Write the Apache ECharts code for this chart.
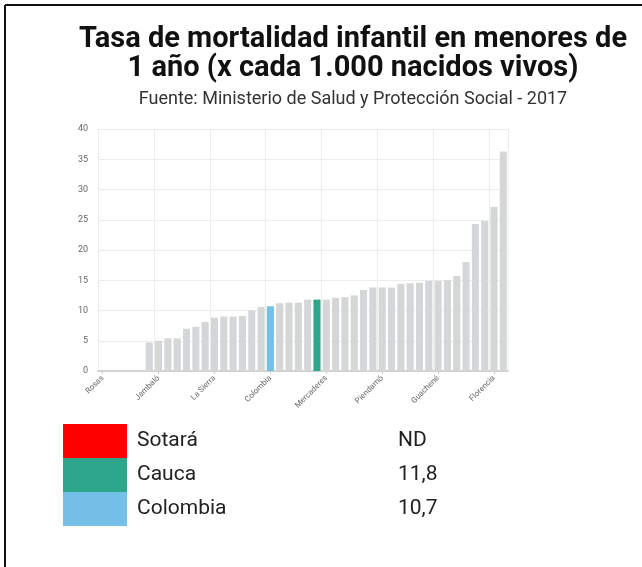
<!DOCTYPE html>
<html style="height: 100%">
   <head>
       <meta charset="utf-8">
   </head>
   <body style="height: 100%; margin: 0; background: #fff">
       <div id="container" style="width: 642px; height: 567px"></div>
       <script type="text/javascript" src="https://cdn.jsdelivr.net/npm/echarts@6/dist/echarts.min.js"></script>
       <script type="text/javascript">
// municipios ordenados por tasa (solo se rotula 1 de cada 6)
var municipios = ['Rosas', 'Santa Rosa', 'Piamonte', 'Sotará', 'Sucre', 'San Sebastián',
    'Jambaló', 'Almaguer', 'Puracé', 'Bolívar', 'Argelia', 'Balboa',
    'La Sierra', 'La Vega', 'Totoró', 'Inzá', 'Caldono', 'Silvia',
    'Colombia', 'Cajibío', 'Morales', 'Toribío', 'El Tambo', 'Cauca',
    'Mercaderes', 'Buenos Aires', 'Patía', 'Páez', 'Timbío', 'Caloto',
    'Piendamó', 'Suárez', 'Popayán', 'Corinto', 'Miranda', 'Padilla',
    'Guachené', 'Santander de Quilichao', 'Villa Rica', 'Puerto Tejada', 'Guapí', 'López de Micay',
    'Florencia', 'Timbiquí'];
var tasas = [0, 0, 0, null, 0, 4.7,
    5.0, 5.4, 5.4, 7.0, 7.3, 8.1,
    8.8, 9.0, 9.0, 9.1, 10.0, 10.6,
    10.7, 11.2, 11.3, 11.3, 11.8, 11.8,
    11.8, 12.1, 12.2, 12.5, 13.4, 13.8,
    13.8, 13.8, 14.4, 14.5, 14.6, 14.9,
    14.9, 15.0, 15.7, 18.0, 24.3, 24.8,
    27.1, 36.3];

var leyendaNombres = ['Sotará', 'Cauca', 'Colombia'];
var leyendaValores = ['ND', '11,8', '10,7'];
var leyendaColores = ['#ff0000', '#2ea68c', '#74c0e8'];

var dom = document.getElementById("container");
var myChart = echarts.init(dom);

var barData = [];
for (var i = 0; i < municipios.length; i++) {
    var k = leyendaNombres.indexOf(municipios[i]);
    barData.push({
        value: tasas[i],
        itemStyle: { color: k >= 0 ? leyendaColores[k] : '#d5d6d7' }
    });
}

var graphics = [
    { type: 'line', shape: { x1: 5, y1: 5, x2: 642, y2: 5 }, style: { stroke: '#111', lineWidth: 2 } },
    { type: 'line', shape: { x1: 5, y1: 5, x2: 5, y2: 567 }, style: { stroke: '#111', lineWidth: 2 } }
];
for (var j = 0; j < leyendaNombres.length; j++) {
    var y0 = 424 + j * 34;
    graphics.push({ type: 'rect', shape: { x: 63, y: y0, width: 64, height: 34 }, style: { fill: leyendaColores[j] } });
    graphics.push({ type: 'text', x: 137, y: y0 + 17, style: { text: leyendaNombres[j], fill: '#222', font: '21px Roboto', verticalAlign: 'middle' } });
    graphics.push({ type: 'text', x: 398, y: y0 + 17, style: { text: leyendaValores[j], fill: '#222', font: '21px Roboto', verticalAlign: 'middle' } });
}

option = {
    animation: false,
    title: {
        text: 'Tasa de mortalidad infantil en menores de\n1 año (x cada 1.000 nacidos vivos)',
        subtext: 'Fuente: Ministerio de Salud y Protección Social - 2017',
        left: 348,
        textAlign: 'center',
        top: 20,
        itemGap: 7,
        textStyle: { fontFamily: 'Roboto', fontWeight: 'bold', fontSize: 29, lineHeight: 29, color: '#111' },
        subtextStyle: { fontFamily: 'Roboto', fontSize: 18, color: '#333' }
    },
    grid: { left: 98, top: 129, width: 410, height: 242, containLabel: false },
    xAxis: {
        type: 'category',
        data: municipios,
        axisLine: { lineStyle: { color: '#c8c8c8', width: 1.5 } },
        axisTick: { show: true, interval: 5, alignWithLabel: true, length: 3, lineStyle: { color: '#ccc' } },
        axisLabel: { interval: 5, rotate: 45, fontSize: 8, fontFamily: 'Roboto', color: '#666', margin: 6 },
        splitLine: { show: true, interval: 5, lineStyle: { color: '#ececec' } }
    },
    yAxis: {
        type: 'value',
        min: 0,
        max: 40,
        interval: 5,
        axisLine: { show: false },
        axisTick: { show: false },
        axisLabel: { fontSize: 9, fontFamily: 'Roboto', color: '#666', margin: 10 },
        splitLine: { lineStyle: { color: '#ececec' } }
    },
    series: [{
        type: 'bar',
        data: barData,
        barCategoryGap: '24%'
    }],
    graphic: graphics
};

if (option && typeof option === "object") {
    myChart.setOption(option, true);
}
       </script>
   </body>
</html>
